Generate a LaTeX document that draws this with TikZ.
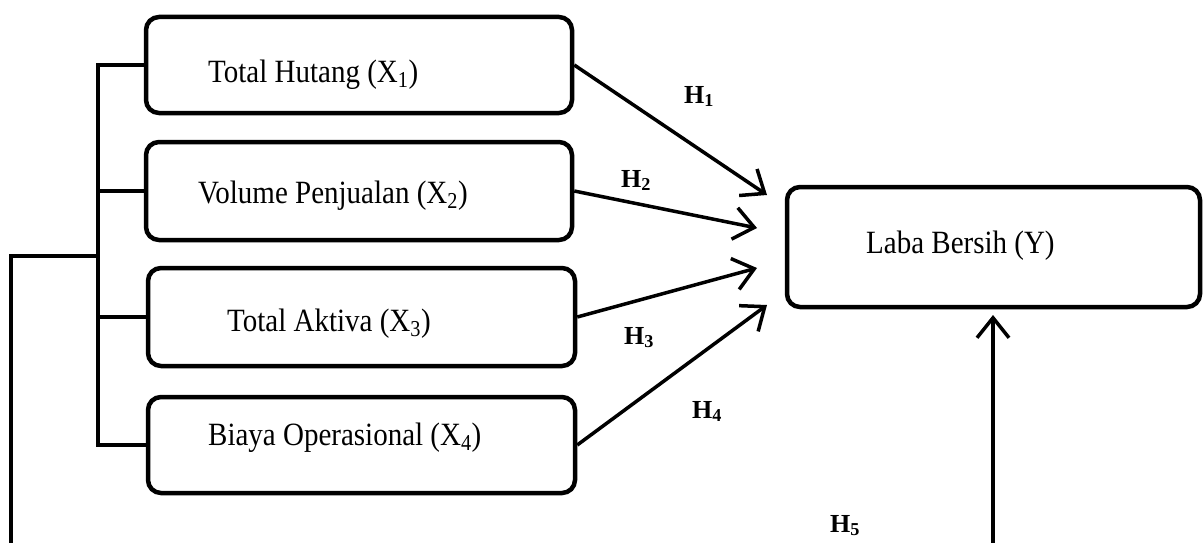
\documentclass[tikz,border=0pt]{standalone}
\usepackage{fontspec}
\setmainfont{Liberation Serif}
\usetikzlibrary{arrows.meta}
\tikzset{
  box/.style={draw, line width=4.5pt, rounded corners=13pt, inner sep=0pt},
  lbl/.style={anchor=base west, inner sep=0pt, font=\fontsize{29}{34}\selectfont},
  hl/.style={anchor=base west, inner sep=0pt, font=\fontsize{26}{30}\selectfont\bfseries},
  conn/.style={line width=3.5pt},
  arr/.style={line width=3.5pt, -{Straight Barb[length=20pt,width=32pt]}},
}
\newcommand{\stretchtxt}[1]{\scalebox{1}[1.12]{#1}}
\begin{document}
\begin{tikzpicture}[x=1pt,y=-1pt]
\useasboundingbox (0,0) rectangle (1204,543);
% boxes
\node[box, minimum width=426pt, minimum height=96pt] (b1) at (359,65) {};
\node[box, minimum width=426pt, minimum height=98pt] (b2) at (359,191) {};
\node[box, minimum width=427pt, minimum height=98pt] (b3) at (361.5,317) {};
\node[box, minimum width=427pt, minimum height=96pt] (b4) at (361.5,445) {};
\node[box, minimum width=413pt, minimum height=120pt] (by) at (993.5,247) {};
% box texts
\node[lbl] (x1) at (208,82) {\stretchtxt{Total Hutang (X\textsubscript{1})}};
\node[lbl] (x2) at (198,203) {\stretchtxt{Volume Penjualan (X\textsubscript{2})}};
\node[lbl] (x3) at (227,331) {\stretchtxt{Total Aktiva (X\textsubscript{3})}};
\node[lbl] (x4) at (208,445) {\stretchtxt{Biaya Operasional (X\textsubscript{4})}};
\node[lbl] (yl) at (866,253) {\stretchtxt{Laba Bersih (Y)}};
% hypothesis labels
\node[hl] (h1) at (684,103) {H\textsubscript{1}};
\node[hl] (h2) at (621,187) {H\textsubscript{2}};
\node[hl] (h3) at (624,344) {H\textsubscript{3}};
\node[hl] (h4) at (692,418) {H\textsubscript{4}};
\node[hl] (h5) at (830,532) {H\textsubscript{5}};
% arrow tips
\coordinate (t1) at (767,195);
\coordinate (t2) at (757,228);
\coordinate (t3) at (757,268);
\coordinate (t4) at (767,305);
\coordinate (t5) at (993,315);
\coordinate (s5) at (993,543);
% bracket
\coordinate (bt) at (98,65);
\draw[conn] (b1.west) -- (b1.west -| bt) -- (b4.west -| bt) -- (b4.west);
\draw[conn] (b2.west) -- (b2.west -| bt);
\draw[conn] (b3.west) -- (b3.west -| bt);
\coordinate (oa) at (98,256);
\coordinate (oc) at (11,543);
\draw[conn] (oa) -| (oc);
% arrows
\draw[arr] (b1.east) -- (t1);
\draw[arr] (b2.east) -- (t2);
\draw[arr] (b3.east) -- (t3);
\draw[arr] (b4.east) -- (t4);
\draw[arr] (s5) -- (t5);
\end{tikzpicture}
\end{document}
